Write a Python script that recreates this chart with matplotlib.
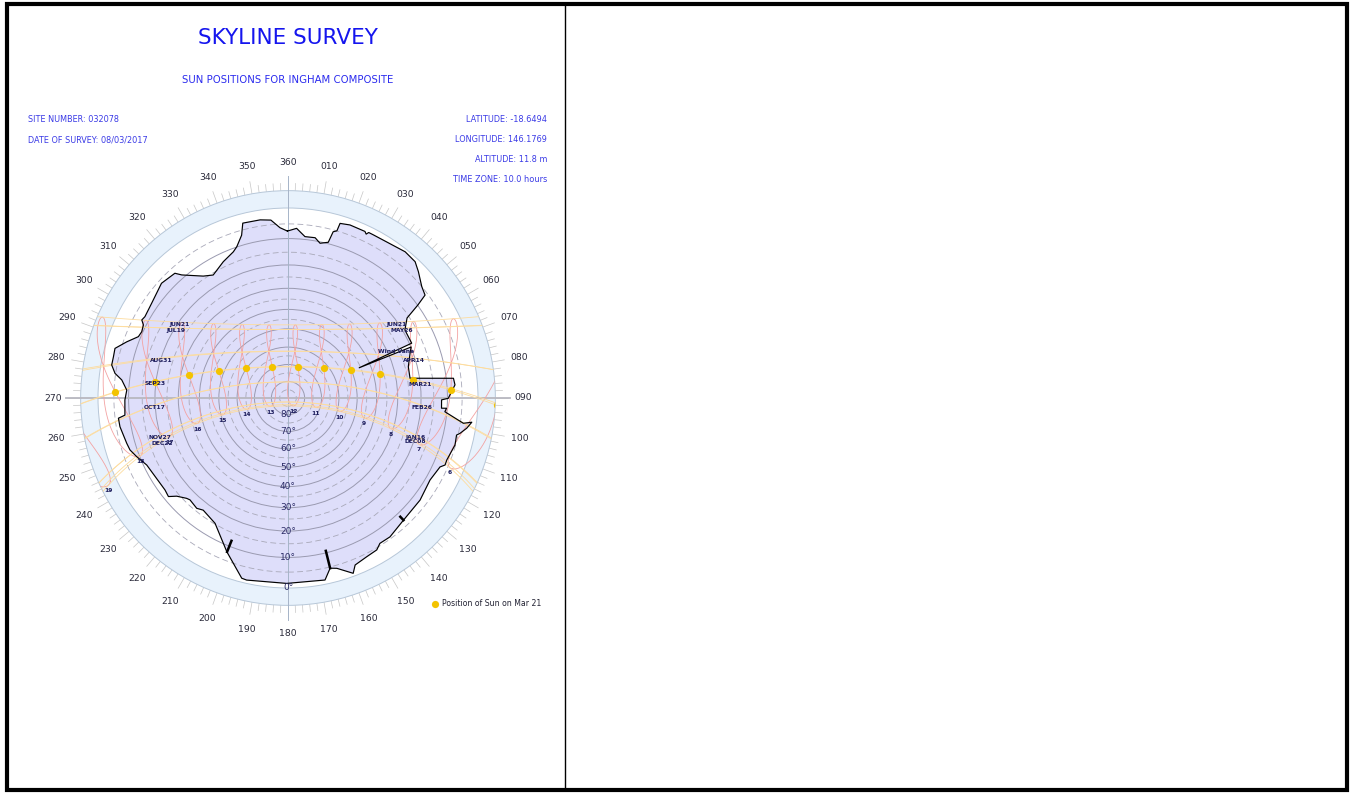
import numpy as np
import matplotlib.pyplot as plt
from matplotlib.patches import Circle, Polygon, Rectangle, Wedge
from matplotlib.collections import LineCollection

LATITUDE = -18.6494
LONGITUDE = 146.1769
TIME_ZONE = 10.0

# skyline: azimuth (deg, clockwise from north), altitude (deg)
sky_az = [359.8, 2.9, 6.0, 9.6, 11.7, 14.5, 15.2, 16.3, 16.6, 19.7, 24.8, 25.5,
          26.0, 27.6, 38.7, 43.0, 45.9, 50.2, 53.1, 54.4, 56.1, 59.8, 66.1, 67.0,
          67.5, 69.8, 75.4, 80.8, 83.2, 85.5, 90.1, 90.7, 93.8, 93.7, 95.0, 98.2,
          97.5, 99.6, 101.6, 102.4, 105.7, 111.3, 113.1, 114.4, 120.0, 127.7,
          136.6, 143.7, 147.7, 149.7, 153.6, 158.1, 159.6, 164.0, 166.1, 168.5,
          180.4, 192.8, 194.4, 201.7, 210.2, 217.1, 219.6, 223.9, 225.3, 228.6,
          230.5, 233.2, 244.6, 248.8, 251.8, 254.3, 260.3, 263.2, 264.0, 269.3,
          272.8, 276.2, 278.1, 280.6, 283.3, 286.0, 289.2, 292.3, 294.4, 296.8,
          298.1, 299.6, 304.8, 312.2, 317.8, 319.2, 325.2, 328.7, 334.6, 339.5,
          341.3, 344.1, 345.5, 351.1, 354.5, 357.3]
sky_alt = [7.4, 6.4, 9.0, 8.9, 10.5, 9.5, 5.6, 5.0, 2.4, 1.9, 2.0, 2.6,
           1.8, 1.8, 0.8, 1.1, 2.6, 5.0, 5.9, 9.9, 15.9, 19.1, 19.1, 45.7,
           19.9, 21.2, 23.6, 23.9, 7.5, 7.2, 9.7, 12.1, 12.0, 10.2, 10.7, 4.0,
           1.4, 2.7, 4.5, 5.5, 5.2, 6.2, 6.1, 7.4, 8.4, 7.4,
           7.0, 5.6, 5.7, 4.4, 4.0, 3.1, 0.9, 4.0, 4.6, 1.3,
           1.4, 1.0, 1.2, 7.9, 15.3, 17.0, 16.0, 16.7, 16.2, 14.0,
           11.6, 12.1, 11.1, 9.0, 7.6, 7.2, 6.2, 6.1, 8.4, 8.7,
           9.3, 7.3, 4.8, 3.3, 3.3, 3.1, 6.1, 9.2, 9.6, 9.1,
           7.8, 8.2, 7.7, 6.1, 6.9, 8.9, 14.0, 15.7, 13.1, 11.2,
           9.9, 6.6, 2.9, 3.0, 3.5, 6.2]

# poles sticking up from the skyline
pole_az = [201.6, 166.1, 136.6]
pole_base = [7.9, 4.6, 7.0]
pole_top = [12.1, 10.7, 8.6]

vane_label = "Wind Vane"
vane_az, vane_alt = 66.9, 26.5

hours = list(range(6, 20))
mar21_hours = list(range(6, 19))
mar21_doy = 80
dec_doy = 355

left_dates = ["JUN21", "JUL19", "AUG31", "SEP23", "OCT17", "NOV27", "DEC22"]
left_doy = [172, 200, 243, 266, 290, 331, 356]
right_dates = ["JUN21", "MAY26", "APR14", "MAR21", "FEB26", "JAN16", "DEC08"]
right_doy = [172, 146, 104, 80, 57, 16, 342]

compass = list(range(0, 360, 10))
alt_labels = list(range(0, 90, 10))

R_CLIP = np.tan(np.radians(95) / 2)   # -5 deg altitude


def sun_position(doy, hour):
    g = 2 * np.pi / 365 * (doy - 1 + (hour - 12) / 24)
    eqt = 229.18 * (0.000075 + 0.001868 * np.cos(g) - 0.032077 * np.sin(g)
                    - 0.014615 * np.cos(2 * g) - 0.040849 * np.sin(2 * g))
    dec = (0.006918 - 0.399912 * np.cos(g) + 0.070257 * np.sin(g)
           - 0.006758 * np.cos(2 * g) + 0.000907 * np.sin(2 * g)
           - 0.002697 * np.cos(3 * g) + 0.00148 * np.sin(3 * g))
    tst = hour * 60 + eqt + 4 * LONGITUDE - 60 * TIME_ZONE
    ha = np.radians(tst / 4 - 180)
    lat = np.radians(LATITUDE)
    alt = np.arcsin(np.sin(lat) * np.sin(dec) + np.cos(lat) * np.cos(dec) * np.cos(ha))
    az = np.arctan2(-np.cos(dec) * np.sin(ha),
                    np.sin(dec) * np.cos(lat) - np.cos(dec) * np.sin(lat) * np.cos(ha))
    return np.degrees(az) % 360, np.degrees(alt)


def sky_xy(az, alt):
    alt = np.where(np.asarray(alt, float) < -12, np.nan, alt)
    r = np.tan(np.radians(90 - alt) / 2)
    a = np.radians(az)
    return r * np.sin(a), r * np.cos(a)


fig = plt.figure(figsize=(13.54, 7.94), dpi=100)
ax = fig.add_axes([38 / 1354, 146 / 794, 500 / 1354, 500 / 794])
lim = 250 / 190
ax.set_xlim(-lim, lim)
ax.set_ylim(-lim, lim)
ax.axis("off")
clip = Circle((0, 0), R_CLIP, transform=ax.transData)

# outer ring below the horizon
ax.add_patch(Wedge((0, 0), R_CLIP, 0, 360, width=R_CLIP - 1.0, fc="#e8f2fc", ec="none", zorder=1))
for rr in (1.0, R_CLIP):
    ax.add_patch(Circle((0, 0), rr, fill=False, ec="#b7c7d8", lw=0.7, zorder=1.5))

# visible sky
sx, sy = sky_xy(sky_az, sky_alt)
ax.add_patch(Polygon(np.column_stack([sx, sy]), closed=True, fc="#dedefa", ec="none", zorder=2))

# altitude circles
for a in range(5, 90, 5):
    rr = np.tan(np.radians(90 - a) / 2)
    if a % 10 == 0:
        ax.add_patch(Circle((0, 0), rr, fill=False, ec="#9a9ab0", lw=0.7, zorder=3))
    else:
        ax.add_patch(Circle((0, 0), rr, fill=False, ec="#a8a8b8", lw=0.6, ls=(0, (7, 4)), zorder=3))

ext = 222 / 190
ax.plot([0, 0], [-ext, ext], color="#a6b4c8", lw=0.7, zorder=3)
ax.plot([-ext, ext], [0, 0], color="#b8b8c0", lw=1.3, zorder=3)

# compass ticks and labels
segs = []
for a in range(0, 360, 2):
    t = np.radians(a)
    r2 = 220 / 190 if a % 10 == 0 else 215 / 190
    segs.append([(R_CLIP * np.sin(t), R_CLIP * np.cos(t)), (r2 * np.sin(t), r2 * np.cos(t))])
ax.add_collection(LineCollection(segs, colors="#c6c6c6", lw=0.5, zorder=1))
for a in compass:
    t = np.radians(a)
    ax.text(1.237 * np.sin(t), 1.237 * np.cos(t), "360" if a == 0 else "%03d" % a,
            ha="center", va="center", fontsize=6.7, color="#2a2a3a")

# hour analemmas
days = np.arange(1, 367)
for h in hours:
    az, alt = sun_position(days, h)
    x, y = sky_xy(az, alt)
    ln, = ax.plot(x, y, color="#f3a2a2", lw=0.6, zorder=4)
    ln.set_clip_path(clip)
    daz, dalt = sun_position(dec_doy, h)
    if dalt > -5:
        dx, dy = sky_xy(daz, dalt)
        ax.annotate(str(h), (dx, dy), xytext=(0, -4), textcoords="offset points",
                    ha="center", va="center", fontsize=4.3, fontweight="bold", color="#1c1c5c", zorder=8)

# date paths
tday = np.arange(0, 24 * 60 + 1, 4) / 60
for d in sorted(set(left_doy + right_doy)):
    az, alt = sun_position(d, tday)
    x, y = sky_xy(az, alt)
    ln, = ax.plot(x, y, color="#fddc9e", lw=0.6, zorder=4)
    ln.set_clip_path(clip)

for names, doys, pm in ((left_dates, left_doy, True), (right_dates, right_doy, False)):
    for name, d in zip(names, doys):
        az, alt = sun_position(d, tday)
        side = tday > 12.3 if pm else tday < 12.3
        i = np.argmin(np.where(side, np.abs(alt - 20), 99))
        lx, ly = sky_xy(az[i], alt[i])
        ax.annotate(name, (lx, ly), xytext=(0, -1.5), textcoords="offset points",
                    ha="center", va="center", fontsize=4.3, fontweight="bold", color="#1c1c5c", zorder=8)

# skyline outline and poles
ax.plot(np.append(sx, sx[0]), np.append(sy, sy[0]), color="black", lw=0.85, zorder=6)
for a, b0, b1 in zip(pole_az, pole_base, pole_top):
    px, py = sky_xy([a, a], [b0, b1])
    ax.plot(px, py, color="black", lw=1.8, zorder=6)
vx, vy = sky_xy(vane_az, vane_alt)
ax.text(vx, vy, vane_label, ha="center", va="center", fontsize=4.3, fontweight="bold",
        color="#1c1c5c", zorder=8)

# sun on Mar 21
maz, malt = sun_position(mar21_doy, np.array(mar21_hours, float))
mx, my = sky_xy(maz, malt)
dots, = ax.plot(mx, my, "o", color="#f3c300", ms=5.2, mec="none", zorder=7,
                label="Position of Sun on Mar 21")
dots.set_clip_path(clip)

# altitude labels
for a in alt_labels:
    lx, ly = sky_xy(180, a)
    ax.text(lx, ly, "%d\u00b0" % a, ha="center", va="center", fontsize=6.5, color="#2b2b66", zorder=8)

ax.legend(handles=[dots], loc="center left", bbox_to_anchor=(433 / 1354, 1 - 604 / 794),
          bbox_transform=fig.transFigure, frameon=False, fontsize=5.6, handlelength=0.6,
          handletextpad=0.5, borderpad=0, borderaxespad=0, labelcolor="#222233")

# header texts
fig.text(288 / 1354, 1 - 38 / 794, "SKYLINE SURVEY", ha="center", va="center",
         fontsize=15.5, color="#1515ee")
fig.text(288 / 1354, 1 - 80 / 794, "SUN POSITIONS FOR INGHAM COMPOSITE", ha="center",
         va="center", fontsize=7.3, color="#2a2aee")
info_left = ["SITE NUMBER: 032078", "DATE OF SURVEY: 08/03/2017"]
info_right = ["LATITUDE: -18.6494", "LONGITUDE: 146.1769", "ALTITUDE: 11.8 m",
              "TIME ZONE: 10.0 hours"]
for i, s in enumerate(info_left):
    fig.text(28 / 1354, 1 - (120 + 20 * i) / 794, s, ha="left", va="center",
             fontsize=5.9, color="#3a3ae6")
for i, s in enumerate(info_right):
    fig.text(547 / 1354, 1 - (120 + 19.7 * i) / 794, s, ha="right", va="center",
             fontsize=5.9, color="#3a3ae6")

# page frame and divider
fig.add_artist(Rectangle((7 / 1354, 4 / 794), 1340 / 1354, 786 / 794, transform=fig.transFigure,
                         fill=False, ec="black", lw=3.0))
fig.add_artist(plt.Line2D([565 / 1354, 565 / 1354], [4 / 794, 790 / 794],
                          transform=fig.transFigure, color="black", lw=1.0))

fig.savefig("out.png", dpi=100)
